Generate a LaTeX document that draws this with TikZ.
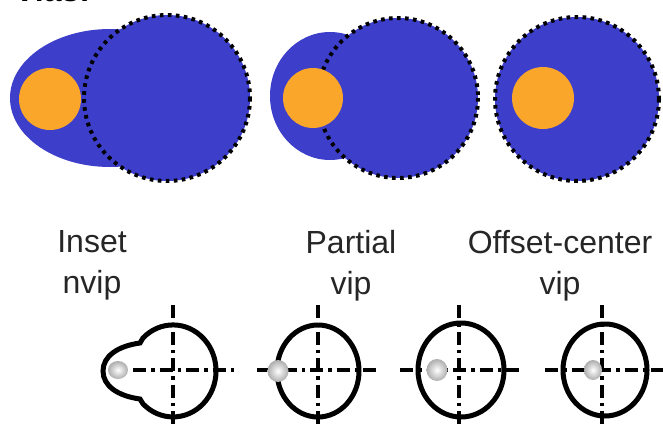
\documentclass[tikz,border=0pt]{standalone}
\usepackage{fontspec}
\setmainfont{Liberation Sans}
\definecolor{viablue}{HTML}{3D3FCB}
\definecolor{padorange}{HTML}{F9A62A}

\begin{document}
\begin{tikzpicture}[
  x=1pt, y=-1pt,
  font=\fontsize{32}{41}\selectfont,
  barrel/.style={fill=viablue},
  plating/.style={draw=black, line width=4pt, dash pattern=on 3.6pt off 4.4pt},
  pad/.style={fill=padorange},
  hair/.style={line width=3.6pt, dash pattern=on 13pt off 5pt on 3.5pt off 5pt},
  ring/.style={line width=5pt},
  drill/.style={inner color=white, outer color=black!32},
  lbl/.style={align=center, text=black!85, inner sep=0pt, anchor=north}
]
\clip (0,0) rectangle (663,428);

% ---- title (cut at the top) ----
\node[anchor=base west, inner sep=0pt, font=\bfseries\fontsize{32}{38}\selectfont] (title) at (14,2) {Vias:};

% ---- top row: pads on barrels ----
\fill[barrel] (110,98) ellipse [x radius=100, y radius=69];
\fill[barrel] (167,98) circle [radius=83];
\draw[plating] (167,98) circle [radius=83];
\fill[pad] (50,99) circle [radius=31];

\fill[barrel] (330,96) ellipse [x radius=60, y radius=64];
\fill[barrel] (398,98) circle [radius=80];
\draw[plating] (398,98) circle [radius=80];
\fill[pad] (313,98) circle [radius=30];

\fill[barrel] (577,99) circle [radius=82];
\draw[plating] (577,99) circle [radius=82];
\fill[pad] (543,98) circle [radius=31];

% ---- labels ----
\node[lbl] (lblinset) at (92,230) {Inset\\nvip};
\node[lbl] (lblpartial) at (351,230) {Partial\\vip};
\node[lbl] (lbloffset) at (560,230) {Offset-center\\vip};

% ---- bottom row: drill positions ----
\draw[hair] (173,305) -- (173,432);
\draw[hair] (133,370) -- (237,370);
\draw[ring] (143,338) arc[start angle=225.7, end angle=494.3, x radius=43, y radius=46]
  -- (140,399) .. controls (118,396) and (103,386) .. (103,371)
  .. controls (103,356) and (118,346) .. (140,343) -- cycle;

\draw[hair] (318,305) -- (318,432);
\draw[hair] (257,370) -- (380,370);
\draw[ring] (318,371) ellipse [x radius=41, y radius=46];

\draw[hair] (459,305) -- (459,432);
\draw[hair] (400,370) -- (523,370);
\draw[ring] (461,370) ellipse [x radius=43, y radius=47];

\draw[hair] (602,305) -- (602,432);
\draw[hair] (545,370) -- (668,370);
\draw[ring] (605,370) ellipse [x radius=42, y radius=46];

\shade[drill] (118,370) ellipse [x radius=10, y radius=9];
\shade[drill] (278,371) ellipse [x radius=10.5, y radius=11];
\shade[drill] (437,370) ellipse [x radius=10.5, y radius=11];
\shade[drill] (593,370) ellipse [x radius=9, y radius=10];
\end{tikzpicture}
\end{document}
